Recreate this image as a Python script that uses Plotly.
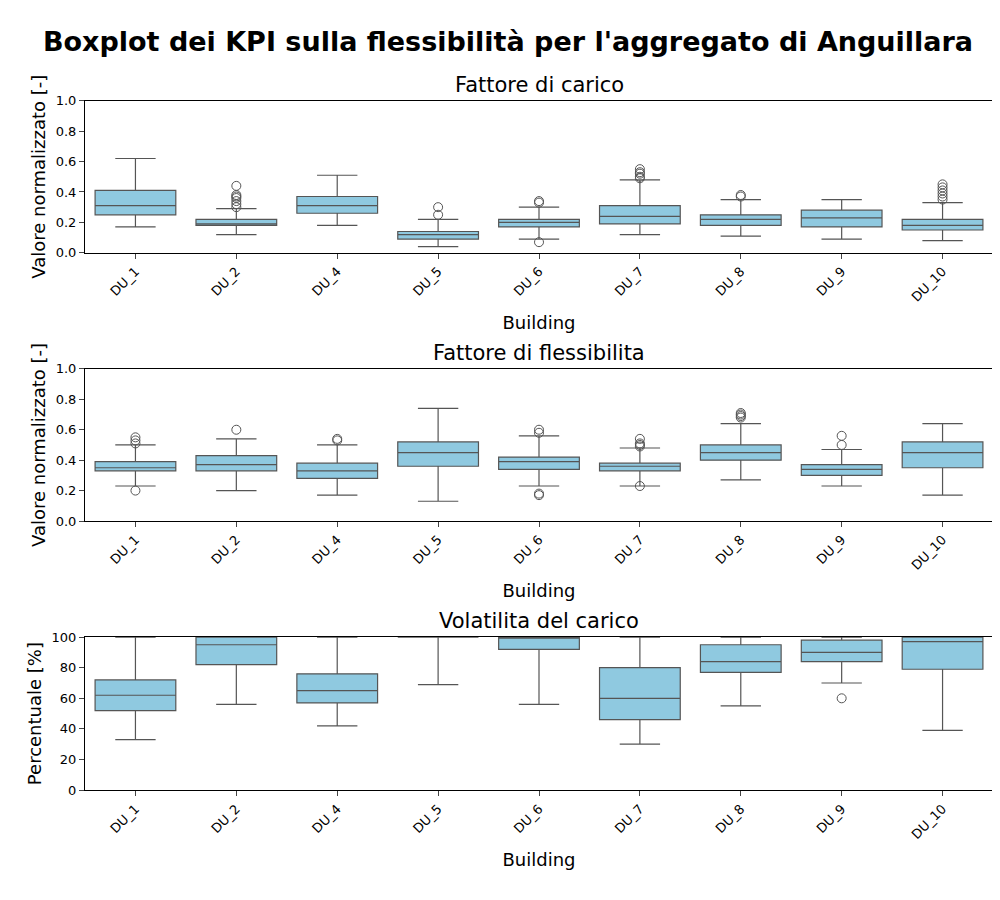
import plotly.graph_objects as go

buildings = ["DU_1","DU_2","DU_4","DU_5","DU_6","DU_7","DU_8","DU_9","DU_10"]

# Panel 1: Fattore di carico
p1_low = [0.17,0.12,0.18,0.04,0.09,0.12,0.11,0.09,0.08]
p1_q1  = [0.25,0.18,0.26,0.09,0.17,0.19,0.18,0.17,0.15]
p1_med = [0.31,0.19,0.31,0.12,0.20,0.24,0.22,0.23,0.18]
p1_q3  = [0.41,0.22,0.37,0.14,0.22,0.31,0.25,0.28,0.22]
p1_high= [0.62,0.29,0.51,0.22,0.30,0.48,0.35,0.35,0.33]
p1_out = [[],[0.30,0.32,0.34,0.36,0.37,0.38,0.44],[],[0.25,0.30],[0.33,0.34,0.07],
          [0.49,0.50,0.52,0.53,0.55],[0.37,0.38],[],[0.35,0.37,0.39,0.41,0.43,0.45]]

# Panel 2: Fattore di flessibilita
p2_low = [0.23,0.20,0.17,0.13,0.23,0.23,0.27,0.23,0.17]
p2_q1  = [0.33,0.33,0.28,0.36,0.34,0.33,0.40,0.30,0.35]
p2_med = [0.35,0.37,0.33,0.45,0.39,0.36,0.45,0.34,0.45]
p2_q3  = [0.39,0.43,0.38,0.52,0.42,0.38,0.50,0.37,0.52]
p2_high= [0.50,0.54,0.50,0.74,0.56,0.48,0.64,0.47,0.64]
p2_out = [[0.51,0.53,0.55,0.20],[0.60],[0.53,0.54],[],[0.58,0.60,0.17,0.18],
          [0.49,0.50,0.51,0.54,0.23],[0.68,0.69,0.70,0.71],[0.50,0.56],[]]

# Panel 3: Volatilita del carico
p3_low = [33,56,42,69,56,30,55,70,39]
p3_q1  = [52,82,57,100,92,46,77,84,79]
p3_med = [62,95,65,100,100,60,84,90,97]
p3_q3  = [72,100,76,100,100,80,95,98,100]
p3_high= [100,100,100,100,100,100,100,100,100]
p3_out = [[],[],[],[],[],[],[],[60],[]]

panels = [
    ("Fattore di carico", "Valore normalizzato [-]", [0,1], [0,0.2,0.4,0.6,0.8,1.0], ["0.0","0.2","0.4","0.6","0.8","1.0"],
     p1_low,p1_q1,p1_med,p1_q3,p1_high,p1_out,[0.728,0.897]),
    ("Fattore di flessibilita", "Valore normalizzato [-]", [0,1], [0,0.2,0.4,0.6,0.8,1.0], ["0.0","0.2","0.4","0.6","0.8","1.0"],
     p2_low,p2_q1,p2_med,p2_q3,p2_high,p2_out,[0.430,0.599]),
    ("Volatilita del carico", "Percentuale [%]", [0,100], [0,20,40,60,80,100], ["0","20","40","60","80","100"],
     p3_low,p3_q1,p3_med,p3_q3,p3_high,p3_out,[0.131,0.301]),
]

fig = go.Figure()
layout = {}
ann = []
for i,(title,ytitle,yr,tv,tt,lo,q1,md,q3,hi,out,dom) in enumerate(panels):
    n = "" if i == 0 else str(i+1)
    xa, ya = "x"+n, "y"+n
    fig.add_trace(go.Box(x=buildings, lowerfence=lo, q1=q1, median=md, q3=q3, upperfence=hi,
                         fillcolor="#8fc9e0", line=dict(color="#555555", width=1.2),
                         width=0.8, whiskerwidth=0.5, boxpoints=False, showlegend=False,
                         xaxis=xa, yaxis=ya))
    ox, oy = [], []
    for b, vals in zip(buildings, out):
        for v in vals:
            ox.append(b); oy.append(v)
    fig.add_trace(go.Scatter(x=ox, y=oy, mode="markers", showlegend=False,
                             marker=dict(symbol="circle-open", size=9, color="#555555", line=dict(width=1)),
                             xaxis=xa, yaxis=ya))
    layout["xaxis"+n] = dict(domain=[0.077,0.985], anchor=ya, categoryorder="array", categoryarray=buildings,
                             range=[-0.5,8.5], automargin=False,
                             tickangle=-45, showline=True, mirror=True, linecolor="black", ticks="outside",
                             tickfont=dict(size=13, color="black"),
                             title=dict(text="Building", font=dict(size=18, color="black"), standoff=12))
    layout["yaxis"+n] = dict(domain=dom, anchor=xa, range=yr, tickvals=tv, ticktext=tt, automargin=False,
                             showline=True, mirror=True, linecolor="black", ticks="outside",
                             showgrid=False, zeroline=False, tickfont=dict(size=13, color="black"),
                             title=dict(text=ytitle, font=dict(size=18, color="black"), standoff=5))
    ann.append(dict(text=title, x=0.531, y=dom[1], xref="paper", yref="paper", xanchor="center",
                    yanchor="bottom", yshift=2, showarrow=False, font=dict(size=21, color="black")))

fig.update_layout(**layout)
fig.update_layout(annotations=ann, width=1000, height=900, plot_bgcolor="white", paper_bgcolor="white",
                  margin=dict(l=0, r=0, t=0, b=0, autoexpand=False),
                  font=dict(family="DejaVu Sans"),
                  title=dict(text="<b>Boxplot dei KPI sulla flessibilità per l'aggregato di Anguillara</b>",
                             x=0.5, xanchor="center", y=0.963, yanchor="middle", font=dict(size=27, color="black")))
fig.write_html("out.html")
